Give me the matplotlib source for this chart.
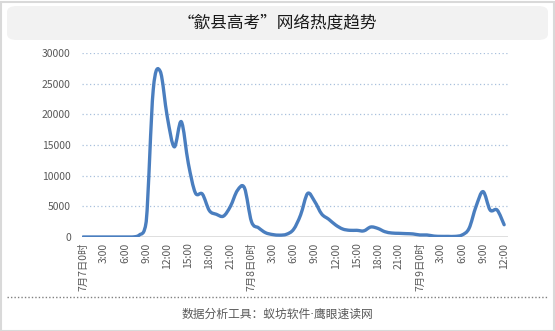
"""
Hourly online heat trend, 7/7 0h to 7/9 12h
"""

import numpy as np
import matplotlib
matplotlib.use("Agg")
import matplotlib.pyplot as plt
from matplotlib.path import Path
from matplotlib.patches import PathPatch, FancyBboxPatch
from matplotlib.lines import Line2D

plt.rcParams['font.family'] = ['Noto Sans CJK SC', 'DejaVu Sans']

title = "“歙县高考”网络热度趋势"
footer = "数据分析工具：蚁坊软件·鹰眼速读网"

# hours since 7月7日0时
hours = list(range(61))
heat = [0, 0, 0, 0, 0, 0, 0, 0, 300, 2500,
        24000, 27000, 19600, 14700, 18800, 12000, 7200, 7000, 4300, 3700,
        3400, 5000, 7600, 8000, 2500, 1500, 700, 400, 300, 450,
        1250, 3600, 7100, 5800, 3750, 2900, 1950, 1300, 1090, 1090,
        1000, 1630, 1400, 870, 650, 600, 550, 500, 330, 330,
        150, 100, 100, 100, 330, 1400, 5000, 7400, 4400, 4400,
        2000]

tick_hours = list(range(0, 61, 3))
tick_labels = ["7月7日0时", "3:00", "6:00", "9:00", "12:00", "15:00", "18:00", "21:00",
               "7月8日0时", "3:00", "6:00", "9:00", "12:00", "15:00", "18:00", "21:00",
               "7月9日0时", "3:00", "6:00", "9:00", "12:00"]
y_ticks = [0, 5000, 10000, 15000, 20000, 25000, 30000]

W, H = 555, 331
fig = plt.figure(figsize=(W / 100, H / 100), dpi=100)

# outer frame
fig.patches.append(plt.Rectangle((0.5 / W, 0.5 / H), 1 - 2 / W, 1 - 2 / H,
                                 transform=fig.transFigure, fill=False,
                                 edgecolor='#d9d9d9', linewidth=1.5))
# title box
fig.patches.append(FancyBboxPatch((7 / W, 1 - 40 / H), 541 / W, 34 / H,
                                  boxstyle="round,pad=0,rounding_size=0.018",
                                  transform=fig.transFigure, facecolor='#f2f2f2',
                                  edgecolor='none'))
fig.text(0.5, 1 - 23 / H, title, ha='center', va='center', fontsize=12, color='#1a1a1a')

# footer
fig.lines.append(Line2D([7 / W, 548 / W], [1 - 297 / H, 1 - 297 / H],
                        transform=fig.transFigure, color='#808080',
                        linewidth=1, linestyle=(0, (1, 1.5))))
fig.text(0.5, 1 - 314 / H, footer, ha='center', va='center', fontsize=8.5,
         color='#595959', family=['DejaVu Sans', 'Noto Sans CJK SC'])

ax = fig.add_axes([82 / W, 1 - 237 / H, 426 / W, 184 / H])

# smooth line (Catmull-Rom as cubic Bezier, like a spreadsheet smoothed line)
x = np.array(hours, dtype=float)
y = np.array(heat, dtype=float)
verts = [(x[0], y[0])]
codes = [Path.MOVETO]
n = len(x)
for i in range(n - 1):
    p0 = i - 1 if i > 0 else i
    p3 = i + 2 if i + 2 < n else i + 1
    c1 = (x[i] + (x[i + 1] - x[p0]) / 6, max(y[i] + (y[i + 1] - y[p0]) / 6, 0))
    c2 = (x[i + 1] - (x[p3] - x[i]) / 6, max(y[i + 1] - (y[p3] - y[i]) / 6, 0))
    verts += [c1, c2, (x[i + 1], y[i + 1])]
    codes += [Path.CURVE4] * 3
ax.add_patch(PathPatch(Path(verts, codes), facecolor='none', edgecolor='#4a7ebf',
                       linewidth=2.4, capstyle='round', joinstyle='round', zorder=3))

ax.set_xlim(-0.15, 60.55)
ax.set_ylim(0, 30000)
ax.set_yticks(y_ticks)
ax.set_yticklabels([str(v) for v in y_ticks])
ax.set_xticks(tick_hours)
ax.set_xticklabels(tick_labels, rotation=90, va='top', ha='center')

for v in y_ticks[1:]:
    ax.axhline(v, color='#a9c0dd', linewidth=0.9, linestyle=(0, (1, 2)), zorder=1)
ax.axhline(0, color='#d9d9d9', linewidth=1.2, zorder=2)

for side in ['top', 'right', 'left', 'bottom']:
    ax.spines[side].set_visible(False)
ax.tick_params(axis='both', length=0, labelsize=7.5, labelcolor='#595959')
ax.tick_params(axis='y', pad=8)
ax.tick_params(axis='x', pad=4)
ax.patch.set_alpha(0)

fig.savefig("out.png", dpi=100)
